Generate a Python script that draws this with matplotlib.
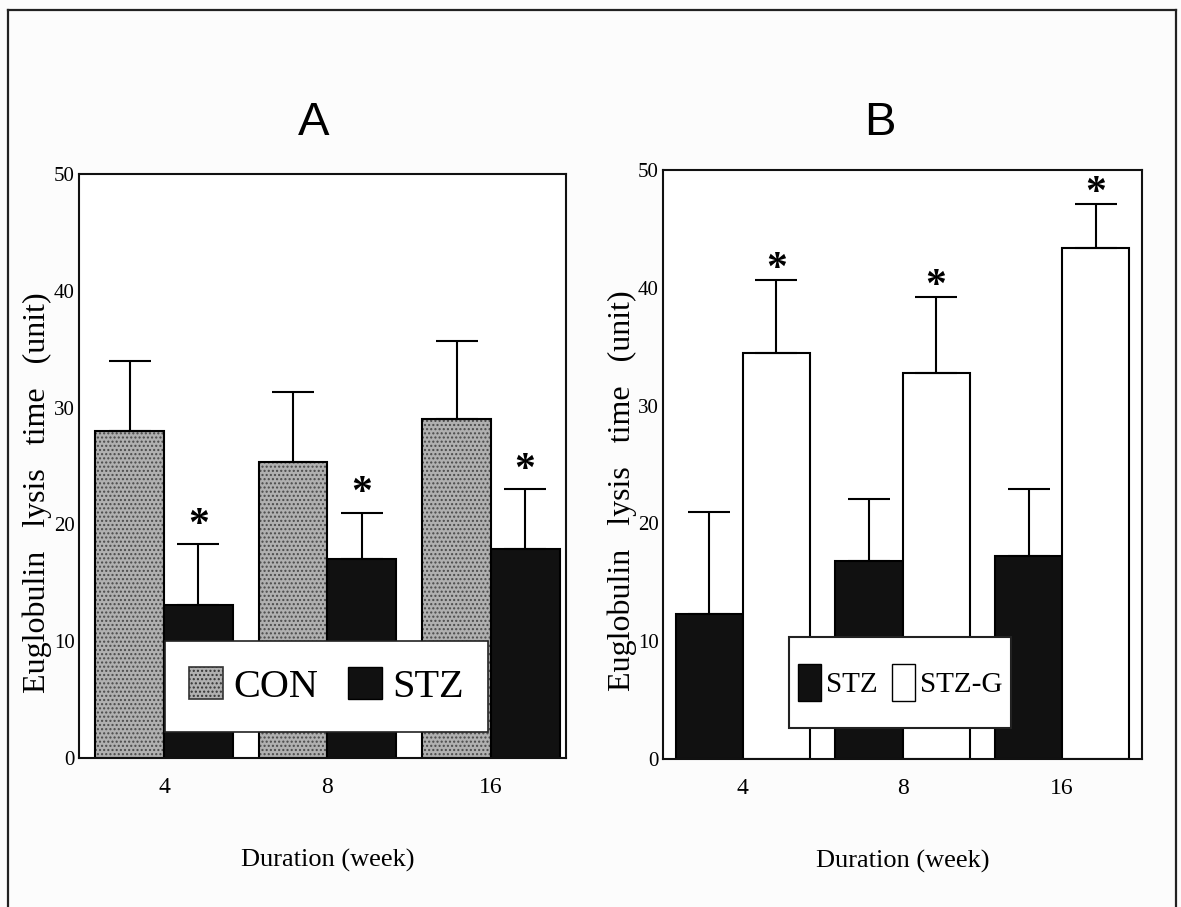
import matplotlib
matplotlib.use("Agg")
import matplotlib.pyplot as plt
import numpy as np
from matplotlib.lines import Line2D
from matplotlib.patches import Patch, Rectangle

# ---- data -------------------------------------------------------------
weeks = ["4", "8", "16"]

con_mean = [28.0, 25.3, 29.0]
con_sd = [6.0, 6.0, 6.7]
stz_a_mean = [13.1, 17.0, 17.9]
stz_a_sd = [5.2, 4.0, 5.1]

stz_b_mean = [12.3, 16.8, 17.2]
stz_b_sd = [8.7, 5.3, 5.7]
stzg_mean = [34.5, 32.8, 43.4]
stzg_sd = [6.2, 6.4, 3.7]

yticks = [0, 10, 20, 30, 40, 50]
ylabel = "Euglobulin   lysis   time   (unit)"
xlabel = "Duration (week)"

SERIF = ["Liberation Serif", "DejaVu Serif"]
NARROW = ["Liberation Sans Narrow", "Liberation Sans", "DejaVu Sans"]

CON_FACE = "#b0b0b0"
CON_DOTS = "#4a4a4a"

fig = plt.figure(figsize=(11.81, 9.07), dpi=100, facecolor="#fcfcfc")

# outer frame of the figure
for xs, ys in [([0.007, 0.007], [0.0, 0.989]),
               ([0.007, 0.996], [0.989, 0.989]),
               ([0.996, 0.996], [0.0, 0.989])]:
    fig.add_artist(Line2D(xs, ys, transform=fig.transFigure,
                          color="#222222", lw=1.6))

axA = fig.add_axes([0.0669, 0.1643, 0.4124, 0.6440])
axB = fig.add_axes([0.5614, 0.1632, 0.4056, 0.6494])

x = np.arange(len(weeks))
w = 0.42
off = 0.21


def errbars(ax, xpos, mean, sd):
    ax.errorbar(xpos, mean, yerr=[np.zeros(len(sd)), sd], fmt="none",
                ecolor="black", elinewidth=1.5, capsize=15, capthick=1.5,
                zorder=3)


def stars(ax, xpos, mean, sd, gap):
    for xi, m, s in zip(xpos, mean, sd):
        ax.text(xi, m + s + gap, "*", ha="center", va="center",
                fontsize=30, fontweight="bold", family=SERIF, zorder=4)


def style(ax, xlim, lab_x, lab_cx):
    ax.set_xlim(*xlim)
    ax.set_ylim(0, 50)
    ax.set_yticks(yticks)
    ax.set_xticks(x)
    ax.set_xticklabels(weeks)
    for lab in ax.get_yticklabels():
        lab.set_family(SERIF)
        lab.set_fontsize(15)
    for lab in ax.get_xticklabels():
        lab.set_family(SERIF)
        lab.set_fontsize(17)
    ax.tick_params(axis="y", length=0, pad=3)
    ax.tick_params(axis="x", length=0, pad=14)
    for sp in ax.spines.values():
        sp.set_linewidth(1.5)
        sp.set_color("#111111")
    ax.set_facecolor("white")
    ax.set_ylabel(ylabel, family=SERIF, fontsize=23)
    ax.yaxis.set_label_coords(lab_x, 0.455)
    ax.set_xlabel(xlabel, family=SERIF, fontsize=19)
    ax.xaxis.set_label_coords(lab_cx, -0.155)


def legend_box(ax, x0, y0, x1, y1, lw):
    ax.add_patch(Rectangle((x0, y0), x1 - x0, y1 - y0,
                           transform=ax.transAxes, facecolor="white",
                           edgecolor="#222222", linewidth=lw, zorder=4.5,
                           clip_on=False))


# ---- panel A ----------------------------------------------------------
axA.bar(x - off, con_mean, w, color=CON_FACE, hatch="....",
        edgecolor=CON_DOTS, linewidth=0, zorder=2)
axA.bar(x - off, con_mean, w, fill=False, edgecolor="black",
        linewidth=1.5, zorder=2)
axA.bar(x + off, stz_a_mean, w, color="#111111", edgecolor="black",
        linewidth=1.5, zorder=2)
errbars(axA, x - off, con_mean, con_sd)
errbars(axA, x + off, stz_a_mean, stz_a_sd)
stars(axA, x + off, stz_a_mean, stz_a_sd, 1.6)
style(axA, (-0.52, 2.46), -0.055, 0.51)

legend_box(axA, 0.1766, 0.0445, 0.840, 0.2003, 1.2)
handlesA = [Patch(facecolor=CON_FACE, hatch="....", edgecolor="#333333",
                  linewidth=1.2, label="CON"),
            Patch(facecolor="#111111", edgecolor="black", label="STZ")]
axA.legend(handles=handlesA, loc="center",
           bbox_to_anchor=(0.508, 0.1224), ncol=2,
           prop={"family": SERIF, "size": 29},
           handlelength=0.85, handleheight=0.85,
           handletextpad=0.25, columnspacing=0.75,
           borderpad=0.3, frameon=False).set_zorder(5)

# ---- panel B ----------------------------------------------------------
axB.bar(x - off, stz_b_mean, w, color="#111111", edgecolor="black",
        linewidth=1.5, zorder=2)
axB.bar(x + off, stzg_mean, w, color="white", edgecolor="black",
        linewidth=1.5, zorder=2)
errbars(axB, x - off, stz_b_mean, stz_b_sd)
errbars(axB, x + off, stzg_mean, stzg_sd)
stars(axB, x + off, stzg_mean, stzg_sd, 0.85)
style(axB, (-0.5, 2.5), -0.054, 0.50)

legend_box(axB, 0.263, 0.0526, 0.7265, 0.207, 1.5)
handlesB = [Patch(facecolor="#111111", edgecolor="black", label="STZ"),
            Patch(facecolor="white", edgecolor="black", linewidth=1.0,
                  label="STZ-G")]
axB.legend(handles=handlesB, loc="center",
           bbox_to_anchor=(0.495, 0.1298), ncol=2,
           prop={"family": SERIF, "size": 21},
           handlelength=0.8, handleheight=1.6,
           handletextpad=0.15, columnspacing=0.5,
           borderpad=0.3, frameon=False).set_zorder(5)

# ---- panel titles -----------------------------------------------------
fig.text(0.266, 0.864, "A", ha="center", va="center", fontsize=34,
         family=NARROW)
fig.text(0.745, 0.864, "B", ha="center", va="center", fontsize=34,
         family=NARROW)

fig.savefig("out.png", dpi=100, facecolor=fig.get_facecolor())
